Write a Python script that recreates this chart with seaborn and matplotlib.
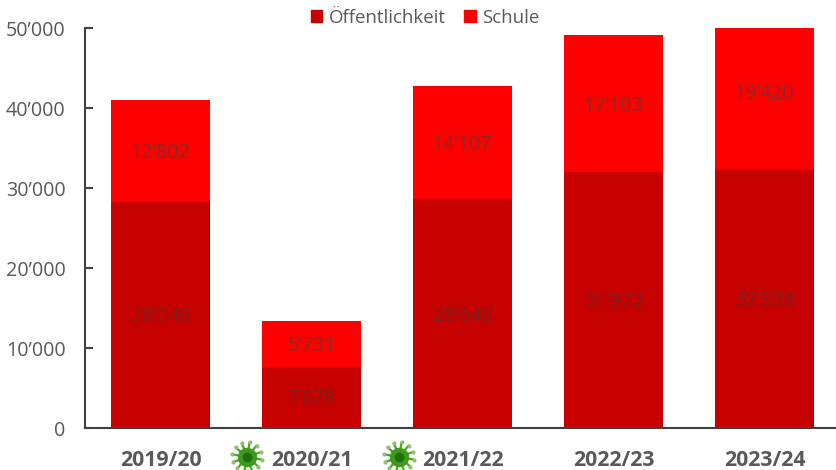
import numpy as np
import pandas as pd
import matplotlib.pyplot as plt
import seaborn as sns
from matplotlib.patches import Patch

# values
seasons = ['2019/20', '2020/21', '2021/22', '2022/23', '2023/24']
oeffentlichkeit = [28246, 7678, 28640, 31972, 32338]
schule = [12802, 5731, 14107, 17103, 19420]
y_ticks = [0, 10000, 20000, 30000, 40000, 50000]

W, H = 837, 470
dark_red = '#C70000'
red = '#FF0000'
grey = '#595959'


def fmt(v):
    return f'{v:,}'.replace(',', '’')


sns.set_style('white')
plt.rcParams['font.family'] = ['Open Sans', 'DejaVu Sans']

df = pd.DataFrame({'season': seasons, 'oeff': oeffentlichkeit, 'schule': schule})

fig = plt.figure(figsize=(W / 100, H / 100), dpi=100)
ax = fig.add_axes([85 / W, 1 - 428 / H, 752 / W, 400 / H])

sns.barplot(data=df, x='season', y='oeff', color=dark_red, saturation=1, width=0.66,
            linewidth=0, ax=ax)
sns.barplot(data=df, x='season', y='schule', bottom=df['oeff'], color=red, saturation=1, width=0.66,
            linewidth=0, ax=ax)

ax.set_xlim(-0.5, 4.48)
ax.set_ylim(0, 50000)
ax.set_xlabel('')
ax.set_ylabel('')
ax.set_yticks(y_ticks)
ax.set_yticklabels(['0'] + [fmt(v) for v in y_ticks[1:]], color=grey, fontsize=14.2)
ax.tick_params(axis='y', direction='in', length=6, width=1.5, color='#404040', left=True, pad=14)
ax.tick_params(axis='x', length=0, pad=15.5)
for lab in ax.get_xticklabels():
    lab.set_color(grey)
    lab.set_fontsize(15.3)
    lab.set_fontweight('bold')

sns.despine(ax=ax)
ax.spines['left'].set_color('#404040')
ax.spines['left'].set_linewidth(1.5)
ax.spines['bottom'].set_color('#404040')
ax.spines['bottom'].set_linewidth(1.5)

# labels in the middle of each segment
for i in range(len(seasons)):
    ax.annotate(fmt(oeffentlichkeit[i]), (i, oeffentlichkeit[i] / 2), xytext=(0, -1.5),
                textcoords='offset points', ha='center', va='center', color='#7A2020', fontsize=14.2)
    ax.annotate(fmt(schule[i]), (i, oeffentlichkeit[i] + schule[i] / 2), xytext=(0, -1.5),
                textcoords='offset points', ha='center', va='center', color='#8A2A2A', fontsize=14.2)

handles = [Patch(color=dark_red, label='Öffentlichkeit'), Patch(color=red, label='Schule')]
leg = fig.legend(handles=handles, loc='center', bbox_to_anchor=(425 / W, 1 - 18 / H), ncol=2,
                 frameon=False, fontsize=13.4, handlelength=0.62, handleheight=0.62,
                 handletextpad=0.35, columnspacing=1.0, borderpad=0)
for t in leg.get_texts():
    t.set_color(grey)


# little virus icons next to the two pandemic seasons
def virus(cx, cy):
    tr = fig.transFigure
    for a in np.arange(0, 360, 30) + 10:
        xs = [cx + 6 * np.cos(np.radians(a)), cx + 15 * np.cos(np.radians(a))]
        ys = [cy + 6 * np.sin(np.radians(a)), cy + 15 * np.sin(np.radians(a))]
        fig.add_artist(plt.Line2D([x / W for x in xs], [1 - y / H for y in ys], transform=tr,
                                  color='#4E9E2C', lw=1.6))
        fig.add_artist(plt.Line2D([xs[1] / W], [1 - ys[1] / H], transform=tr, marker='o', ms=3,
                                  color='#8CC46A', mew=0))
    fig.add_artist(plt.Line2D([cx / W], [1 - cy / H], transform=tr, marker='o', ms=14,
                              color='#3E9A1A', mew=0))
    fig.add_artist(plt.Line2D([cx / W], [1 - cy / H], transform=tr, marker='o', ms=7,
                              color='#1F6E10', mew=0))


virus(247, 457)
virus(399, 457)

fig.savefig('out.png', dpi=100)
